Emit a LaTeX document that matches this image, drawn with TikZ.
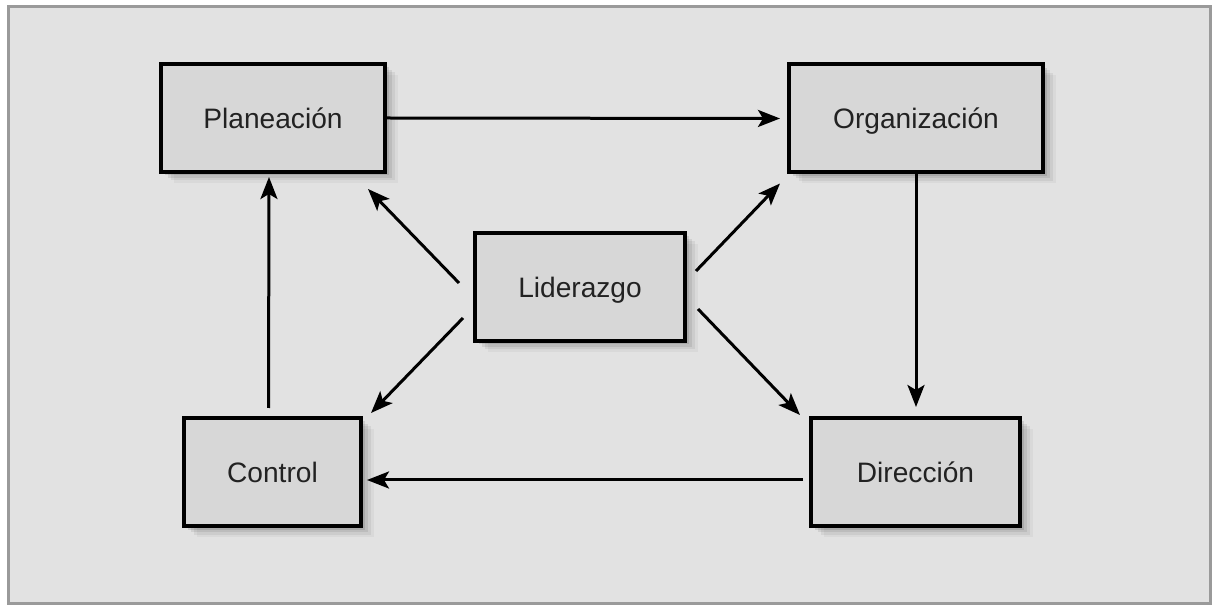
\documentclass[tikz,border=0pt]{standalone}
\usepackage{fontspec}
\setmainfont{Liberation Sans}
\usepackage{tikz}
\usetikzlibrary{calc,arrows.meta,shadows}

\definecolor{panelgray}{HTML}{E2E2E2}
\definecolor{framegray}{HTML}{9A9A9A}
\definecolor{boxgray}{HTML}{D7D7D7}
\definecolor{textgray}{HTML}{222222}

\begin{document}
\begin{tikzpicture}[
        every node/.style={font=\fontsize{16}{19}\selectfont, text=textgray},
        stage/.style={
            draw,
            fill=boxgray,
            line width=0.08cm,
            minimum height=2.16cm,
            text height=13pt,
            text depth=1.5pt,
            align=center,
            drop shadow={shadow xshift=0.26cm, shadow yshift=-0.22cm, opacity=0.04, fill=black},
            drop shadow={shadow xshift=0.20cm, shadow yshift=-0.17cm, opacity=0.06, fill=black},
            drop shadow={shadow xshift=0.14cm, shadow yshift=-0.12cm, opacity=0.08, fill=black},
            drop shadow={shadow xshift=0.08cm, shadow yshift=-0.07cm, opacity=0.10, fill=black}
        },
        arrow/.style={-{Stealth[length=0.44cm,width=0.34cm,inset=0.1cm]}, line width=0.06cm}
    ]

    % Panel
    \useasboundingbox (0,0) rectangle (24.24,-12.16);
    \draw[framegray, fill=panelgray, line width=0.06cm] (0.17,-0.13) rectangle (24.21,-12.07);

    % Main stages
    \node[stage, minimum width=4.48cm] (plan) at (5.46,-2.36) {Planeación};
    \node[stage, minimum width=5.08cm] (org)  at (18.32,-2.37) {Organización};
    \node[stage, minimum width=4.20cm] (lid)  at (11.60,-5.74) {Liderazgo};
    \node[stage, minimum width=3.54cm] (ctrl) at (5.45,-9.44) {Control};
    \node[stage, minimum width=4.18cm] (dir)  at (18.31,-9.44) {Dirección};

    % Cycle
    \draw[arrow, shorten >=0.14cm] (plan.east) -- (org.west);
    \draw[arrow, shorten >=0.18cm] (org.south) -- (org.south |- dir.north);
    \draw[arrow, shorten <=0.12cm, shorten >=0.08cm] ([yshift=-0.16cm]dir.west) -- ([yshift=-0.16cm]ctrl.east);
    \draw[arrow, shorten <=0.16cm, shorten >=0.06cm] ([xshift=-0.08cm]ctrl.north) -- ([xshift=-0.08cm]plan.south);

    % Leadership arrows
    \draw[arrow] ($(lid.west)+(-0.28,0.08)$) -- ($(plan.south east)+(-0.38,-0.30)$);
    \draw[arrow] ($(lid.east)+(0.18,0.32)$) -- ($(org.south west)+(-0.14,-0.18)$);
    \draw[arrow] ($(lid.west)+(-0.20,-0.62)$) -- ($(ctrl.north east)+(0.16,0.06)$);
    \draw[arrow] ($(lid.east)+(0.22,-0.44)$) -- ($(dir.north west)+(-0.18,0.02)$);

\end{tikzpicture}
\end{document}
